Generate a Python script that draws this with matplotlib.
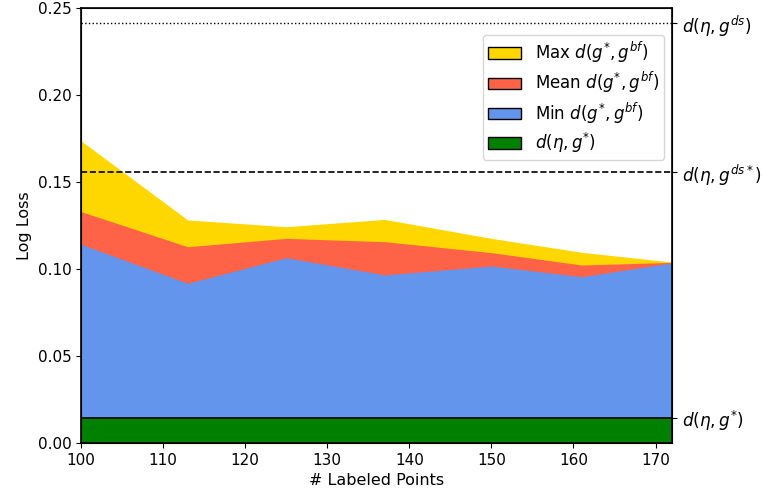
import numpy as np
import matplotlib
matplotlib.use('Agg')
import matplotlib.pyplot as plt
import matplotlib.patches as mpatches

# labeled points and losses
n_labeled = [100, 113, 125, 137, 150, 161, 172]
max_loss = [0.1737, 0.1282, 0.1243, 0.1285, 0.1176, 0.1096, 0.1040]
mean_loss = [0.1330, 0.1128, 0.1176, 0.1157, 0.1094, 0.1023, 0.1038]
min_loss = [0.1142, 0.0918, 0.1065, 0.0966, 0.1017, 0.0956, 0.1035]
bayes_loss = 0.0145      # d(eta, g*)
ds_star_loss = 0.1557    # d(eta, g^ds*)
ds_loss = 0.2414         # d(eta, g^ds)

plt.rcParams['font.size'] = 11

fig = plt.figure(figsize=(7.64, 4.99), dpi=100)
ax = fig.add_axes([81/764, 1 - 443/499, (672-81)/764, (443-8)/499])

ax.fill_between(n_labeled, 0, max_loss, color='gold', lw=0)
ax.fill_between(n_labeled, 0, mean_loss, color='tomato', lw=0)
ax.fill_between(n_labeled, 0, min_loss, color='cornflowerblue', lw=0)
ax.fill_between(n_labeled, 0, bayes_loss, color='green', lw=0)
ax.axhline(bayes_loss, color='k', lw=1.2)
ax.axhline(ds_star_loss, color='k', ls='--', lw=1.2)
ax.axhline(ds_loss, color='k', ls=':', lw=1)

ax.set_xlim(100, 172)
ax.set_ylim(0, 0.25)
ax.set_xticks(range(100, 171, 10))
ax.set_xlabel('# Labeled Points', fontsize=11.5)
ax.set_ylabel('Log Loss', fontsize=11.5)
for s in ax.spines.values():
    s.set_linewidth(1.2)

ax2 = ax.twinx()
ax2.set_ylim(ax.get_ylim())
ax2.set_yticks([bayes_loss, ds_star_loss, ds_loss])
ax2.set_yticklabels([r'$d(\eta, g^{*})$', r'$d(\eta, g^{ds*})$', r'$d(\eta, g^{ds})$'],
                    fontsize=12.2)

handles = [
    mpatches.Patch(facecolor='gold', edgecolor='k', label=r'Max $d(g^{*}, g^{bf})$'),
    mpatches.Patch(facecolor='tomato', edgecolor='k', label=r'Mean $d(g^{*}, g^{bf})$'),
    mpatches.Patch(facecolor='cornflowerblue', edgecolor='k', label=r'Min $d(g^{*}, g^{bf})$'),
    mpatches.Patch(facecolor='green', edgecolor='k', label=r'$d(\eta, g^{*})$'),
]
ax.legend(handles=handles, loc='upper right', fontsize=12,
          bbox_to_anchor=(664/764, 1 - 35/499), bbox_transform=fig.transFigure,
          borderaxespad=0, borderpad=0.3, labelspacing=0.3)

fig.savefig('out.png', dpi=100)
